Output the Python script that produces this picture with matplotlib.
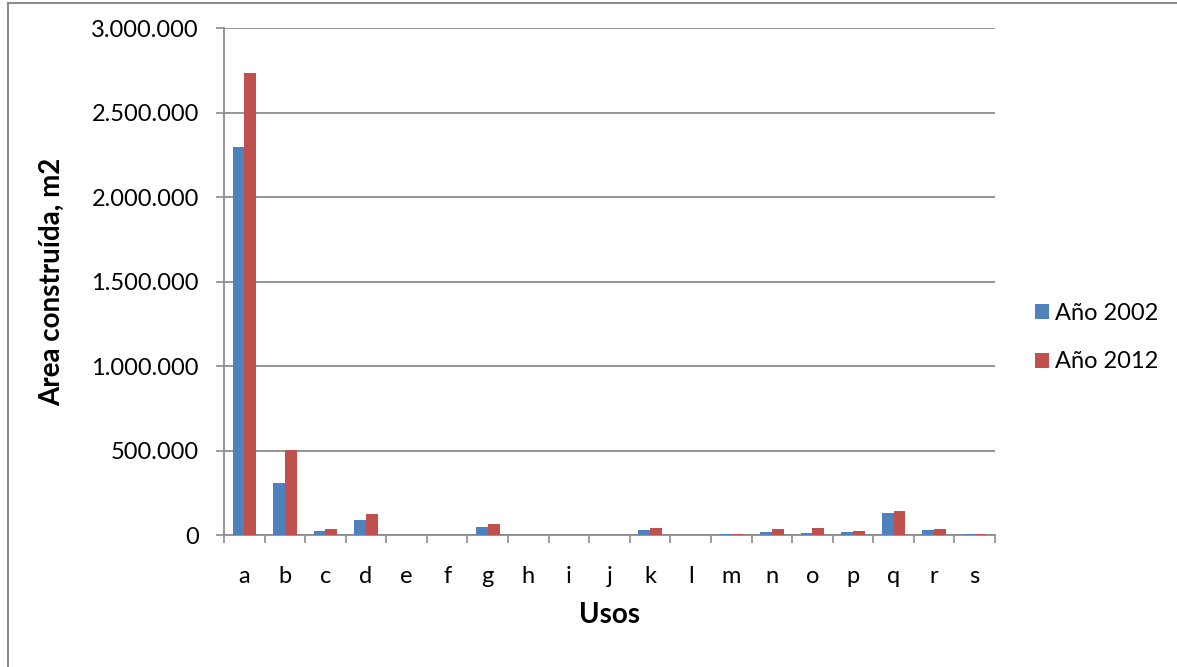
import numpy as np
import matplotlib.pyplot as plt
from matplotlib.patches import Rectangle
from matplotlib.ticker import FuncFormatter

usos = ["a", "b", "c", "d", "e", "f", "g", "h", "i", "j",
        "k", "l", "m", "n", "o", "p", "q", "r", "s"]
area_2002 = [2295000, 308000, 24000, 89000, 0, 0, 45000, 1000, 0, 0,
             30000, 1000, 3000, 16000, 10000, 18000, 128000, 28000, 3000]
area_2012 = [2732000, 503000, 36000, 125000, 0, 1000, 67000, 2000, 0, 0,
             40000, 2000, 5000, 34000, 40000, 24000, 144000, 37000, 3000]

plt.rcParams['font.family'] = ['Lato', 'DejaVu Sans']

fig = plt.figure(figsize=(11.77, 6.67), dpi=100)
W, H = 1177, 667
ax = fig.add_axes([224 / W, 1 - 535 / H, (995 - 224) / W, (535 - 28) / H])

x = np.arange(len(usos))
bw = 0.29
ax.bar(x - bw / 2, area_2002, bw, color="#4F81BD", label="Año 2002", zorder=3)
ax.bar(x + bw / 2, area_2012, bw, color="#C0504D", label="Año 2012", zorder=3)

ax.set_xlim(-0.5, len(usos) - 0.5)
ax.set_ylim(0, 3000000)
ax.set_yticks(np.arange(0, 3000001, 500000))
ax.yaxis.set_major_formatter(FuncFormatter(lambda v, p: f"{int(v):,}".replace(",", ".")))
ax.set_xticks(x)
ax.set_xticklabels(usos)
ax.set_xticks(np.arange(-0.5, len(usos)), minor=True)
ax.tick_params(axis="x", which="major", length=0, pad=22, labelsize=17)
ax.tick_params(axis="x", which="minor", length=6, color="#8c8c8c", width=1.2)
ax.tick_params(axis="y", length=6, color="#8c8c8c", width=1.2, labelsize=17, pad=12)

ax.grid(axis="y", color="#8c8c8c", linewidth=1.3, zorder=0)
for side in ["top", "right"]:
    ax.spines[side].set_visible(False)
for side in ["left", "bottom"]:
    ax.spines[side].set_color("#8c8c8c")
    ax.spines[side].set_linewidth(1.3)

ax.set_xlabel("Usos", fontsize=20, fontweight="bold", va="center")
ax.xaxis.set_label_coords(0.5, -0.158)
ax.set_ylabel("Area construída, m2", fontsize=20, fontweight="bold", va="center")
ax.yaxis.set_label_coords(-0.223, 0.5)

ax.legend(loc="center left", bbox_to_anchor=(1.052, 0.389), frameon=False,
          fontsize=17, handlelength=0.6, handleheight=0.6,
          labelspacing=1.15, handletextpad=0.25, borderpad=0, borderaxespad=0)

# outer chart border
fig.patches.append(Rectangle((8 / W, -0.05), 1.2, 1 - 3 / H + 0.05,
                             transform=fig.transFigure, fill=False,
                             edgecolor="#8c8c8c", linewidth=1.5))

fig.savefig("out.png", dpi=100)
